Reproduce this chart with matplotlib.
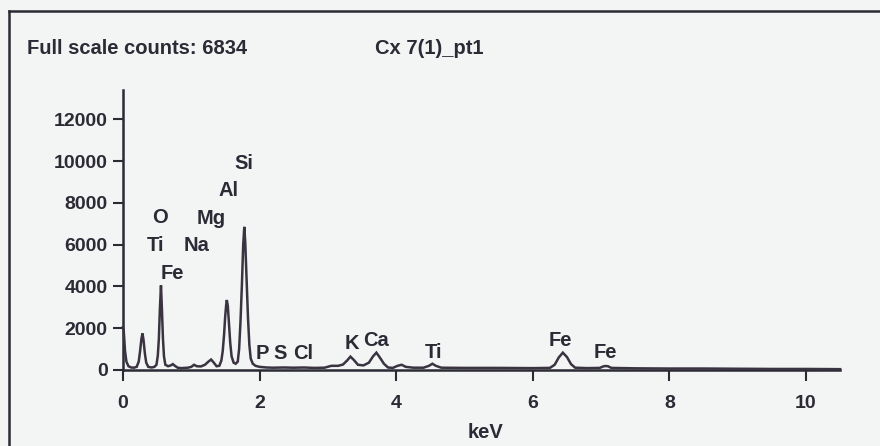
import matplotlib
matplotlib.use("Agg")
import matplotlib.pyplot as plt
from matplotlib.lines import Line2D

# ---------------- data ----------------
energy_kev = [
    0.00, 0.01, 0.03, 0.05, 0.08, 0.12, 0.16,
    0.20, 0.23, 0.25, 0.27, 0.285, 0.30, 0.32, 0.34, 0.37,
    0.42, 0.46, 0.49, 0.51, 0.525, 0.54, 0.556, 0.57, 0.585, 0.60, 0.62,
    0.66, 0.70, 0.73, 0.76, 0.80, 0.85, 0.90, 0.95, 1.00, 1.04, 1.08, 1.14,
    1.20, 1.25, 1.29, 1.33, 1.37, 1.41,
    1.44, 1.46, 1.48, 1.495, 1.51, 1.52, 1.535, 1.55, 1.57, 1.59, 1.62, 1.65,
    1.68, 1.70, 1.72, 1.74, 1.76, 1.776, 1.79, 1.81, 1.83, 1.85, 1.87, 1.90,
    1.94, 2.00, 2.10, 2.20, 2.35, 2.50, 2.65, 2.80, 2.95,
    3.05, 3.15, 3.22, 3.28, 3.33, 3.38, 3.44, 3.52, 3.60, 3.66, 3.71, 3.76,
    3.82, 3.88, 3.95, 4.02, 4.08, 4.14, 4.25, 4.40, 4.48, 4.53, 4.58, 4.66,
    5.00, 5.50, 6.00, 6.25, 6.32, 6.38, 6.44, 6.50, 6.56, 6.62, 6.80,
    6.98, 7.03, 7.06, 7.10, 7.15, 7.50, 8.00, 8.50, 9.00, 9.50, 10.00, 10.50,
]
counts = [
    2050, 1900, 900, 400, 180, 120, 110,
    150, 400, 900, 1500, 1750, 1450, 800, 350, 150,
    120, 150, 250, 700, 1500, 2900, 4050, 2900, 1500, 650, 250,
    180, 220, 280, 200, 110, 90, 100, 110, 150, 250, 180, 170,
    250, 400, 500, 350, 180, 200,
    450, 900, 1700, 2500, 3100, 3350, 3050, 2300, 1300, 650, 350, 300,
    400, 1000, 2300, 4000, 6000, 6850, 6100, 4300, 2500, 1200, 550, 300,
    200, 150, 120, 110, 120, 110, 120, 100, 110,
    200, 200, 260, 450, 640, 480, 250, 220, 350, 650, 830, 600,
    300, 120, 100, 200, 250, 150, 110, 110, 200, 300, 200, 110,
    100, 100, 90, 100, 250, 600, 830, 620, 280, 110, 90,
    100, 170, 190, 180, 100, 80, 70, 70, 60, 50, 50, 40,
]

x_ticks = [0, 2, 4, 6, 8, 10]
y_ticks = [0, 2000, 4000, 6000, 8000, 10000, 12000]

element_labels = ["O", "Ti", "Na", "Mg", "Al", "Si", "Fe",
                  "P", "S", "Cl", "K", "Ca", "Ti", "Fe", "Fe"]
label_kev = [0.54, 0.47, 1.08, 1.29, 1.54, 1.77, 0.72,
             2.035, 2.30, 2.64, 3.35, 3.70, 4.54, 6.41, 7.06]
label_counts = [7320, 5980, 5980, 7270, 8610, 9900, 4640,
                810, 810, 810, 1290, 1390, 860, 1390, 860]

title_left = "Full scale counts: 6834"
title_right = "Cx 7(1)_pt1"
x_label = "keV"

# ---------------- styling ----------------
W, H = 880, 446
BG = "#f3f4f4"
INK = "#2b2a35"
LINE = "#3a3340"
FONT = ["Liberation Sans", "DejaVu Sans"]

plt.rcParams["font.family"] = FONT
plt.rcParams["font.weight"] = "bold"

fig = plt.figure(figsize=(W / 100, H / 100), dpi=100, facecolor=BG)

# axes: x 0 at px 123, 68.3 px per keV; y 0 at px 370, 20.9 px per 1000 counts
x0_px, px_per_kev = 123, 68.3
y0_px, px_per_count = 370, 20.9 / 1000
xmax, ymax = 10.5, 13400
left = x0_px / W
width = xmax * px_per_kev / W
bottom = (H - y0_px) / H
height = ymax * px_per_count / H
ax = fig.add_axes([left, bottom, width, height])
ax.set_facecolor("none")
ax.set_xlim(0, xmax)
ax.set_ylim(0, ymax)

ax.plot(energy_kev, counts, color=LINE, lw=1.8, solid_joinstyle="miter",
        clip_on=False, zorder=3)

for s in ["top", "right"]:
    ax.spines[s].set_visible(False)
for s in ["left", "bottom"]:
    ax.spines[s].set_color(INK)
    ax.spines[s].set_linewidth(1.8)

ax.set_xticks(x_ticks)
ax.set_yticks(y_ticks)
ax.set_xticklabels([str(t) for t in x_ticks])
ax.set_yticklabels([str(t) for t in y_ticks])
ax.tick_params(axis="both", direction="out", length=7, width=1.5,
               color=INK, labelcolor=INK, labelsize=14)
ax.tick_params(axis="x", length=8, pad=10)
ax.tick_params(axis="y", pad=4)
for lab in ax.get_xticklabels() + ax.get_yticklabels():
    lab.set_fontweight("bold")

for name, xk, yc in zip(element_labels, label_kev, label_counts):
    ax.text(xk, yc, name, ha="center", va="center", fontsize=14.5,
            fontweight="bold", color=INK, zorder=4)

# outer frame (left and top borders of the scanned panel)
fig.add_artist(Line2D([9 / W, 9 / W], [0, 1 - 11 / H], transform=fig.transFigure,
                      color=INK, lw=1.8))
fig.add_artist(Line2D([9 / W, 1], [1 - 11 / H, 1 - 11 / H], transform=fig.transFigure,
                      color=INK, lw=1.8))

fig.text(27 / W, 1 - 48 / H, title_left, ha="left", va="center",
         fontsize=14.5, fontweight="bold", color=INK)
fig.text(375 / W, 1 - 48 / H, title_right, ha="left", va="center",
         fontsize=14.5, fontweight="bold", color=INK)
fig.text(485 / W, 1 - 432 / H, x_label, ha="center", va="center",
         fontsize=14.5, fontweight="bold", color=INK)

fig.savefig("out.png", dpi=100, facecolor=BG)
